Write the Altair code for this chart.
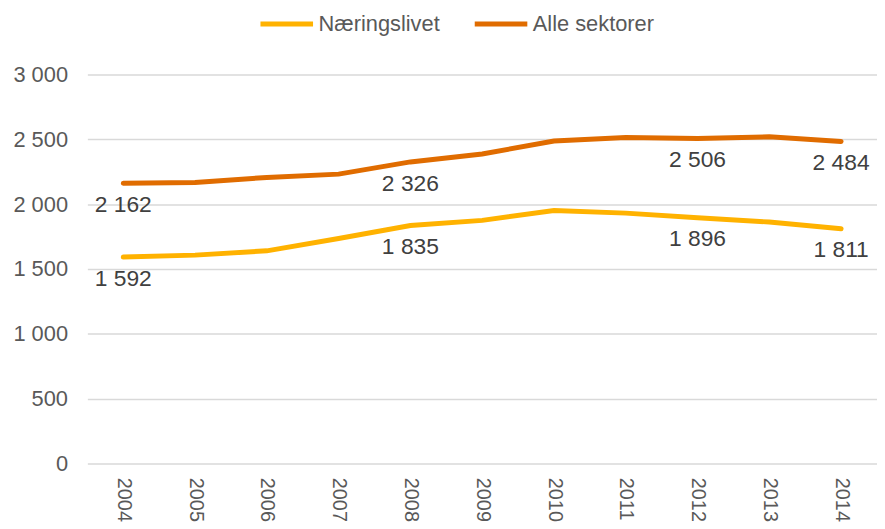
import altair as alt
import pandas as pd

years = ["2004", "2005", "2006", "2007", "2008", "2009", "2010", "2011", "2012", "2013", "2014"]
naering = [1592, 1607, 1640, 1735, 1835, 1875, 1951, 1931, 1896, 1862, 1811]
alle = [2162, 2168, 2206, 2232, 2326, 2387, 2487, 2515, 2506, 2520, 2484]
series_names = ["Næringslivet", "Alle sektorer"]
colors = ["#FFB200", "#E06C00"]
label_years = ["2004", "2008", "2012", "2014"]
y_ticks = [0, 500, 1000, 1500, 2000, 2500, 3000]

rows = []
for name, vals in zip(series_names, [naering, alle]):
    for yr, v in zip(years, vals):
        rows.append({
            "year": yr,
            "value": v,
            "series": name,
            "label": f"{v:,}".replace(",", " ") if yr in label_years else "",
        })
df = pd.DataFrame(rows)

FONT = "Liberation Sans"

x = alt.X(
    "year:O",
    scale=alt.Scale(type="point", padding=0.5),
    axis=alt.Axis(
        title=None, labelAngle=90, labelAlign="left", labelBaseline="middle",
        labelPadding=14, labelFontSize=20, labelColor="#595959", labelFont=FONT,
        ticks=False, domain=False, grid=False,
    ),
)
y = alt.Y(
    "value:Q",
    scale=alt.Scale(domain=[0, 3000]),
    axis=alt.Axis(
        title=None, values=y_ticks,
        labelExpr="replace(format(datum.value, ','), ',', ' ')",
        labelFontSize=22, labelColor="#595959", labelFont=FONT,
        ticks=False, domain=False, gridColor="#d9d9d9", gridWidth=1.5,
        labelPadding=20,
    ),
)
color = alt.Color(
    "series:N",
    scale=alt.Scale(domain=series_names, range=colors),
    legend=alt.Legend(
        title=None, orient="none", legendX=172, legendY=-80,
        direction="horizontal", symbolType="stroke", symbolSize=2809,
        symbolStrokeWidth=5, labelFontSize=22, labelColor="#595959",
        labelFont=FONT, columnPadding=24, labelOffset=3,
    ),
)

lines = alt.Chart(df).mark_line(strokeWidth=5, strokeCap="round").encode(
    x=x, y=y, color=color, order="year:O"
)
texts = alt.Chart(df).transform_filter("datum.label != ''").mark_text(
    dy=22, fontSize=23, color="#404040", font=FONT
).encode(x=x, y=y, text="label:N")

chart = alt.layer(lines, texts).properties(
    width=796, height=392,
    autosize=alt.AutoSizeParams(type="none"),
    padding={"left": 80, "top": 65, "right": 0, "bottom": 63},
).configure_view(stroke=None)

chart.save("out.html", embed_options={"renderer": "svg", "actions": False})
